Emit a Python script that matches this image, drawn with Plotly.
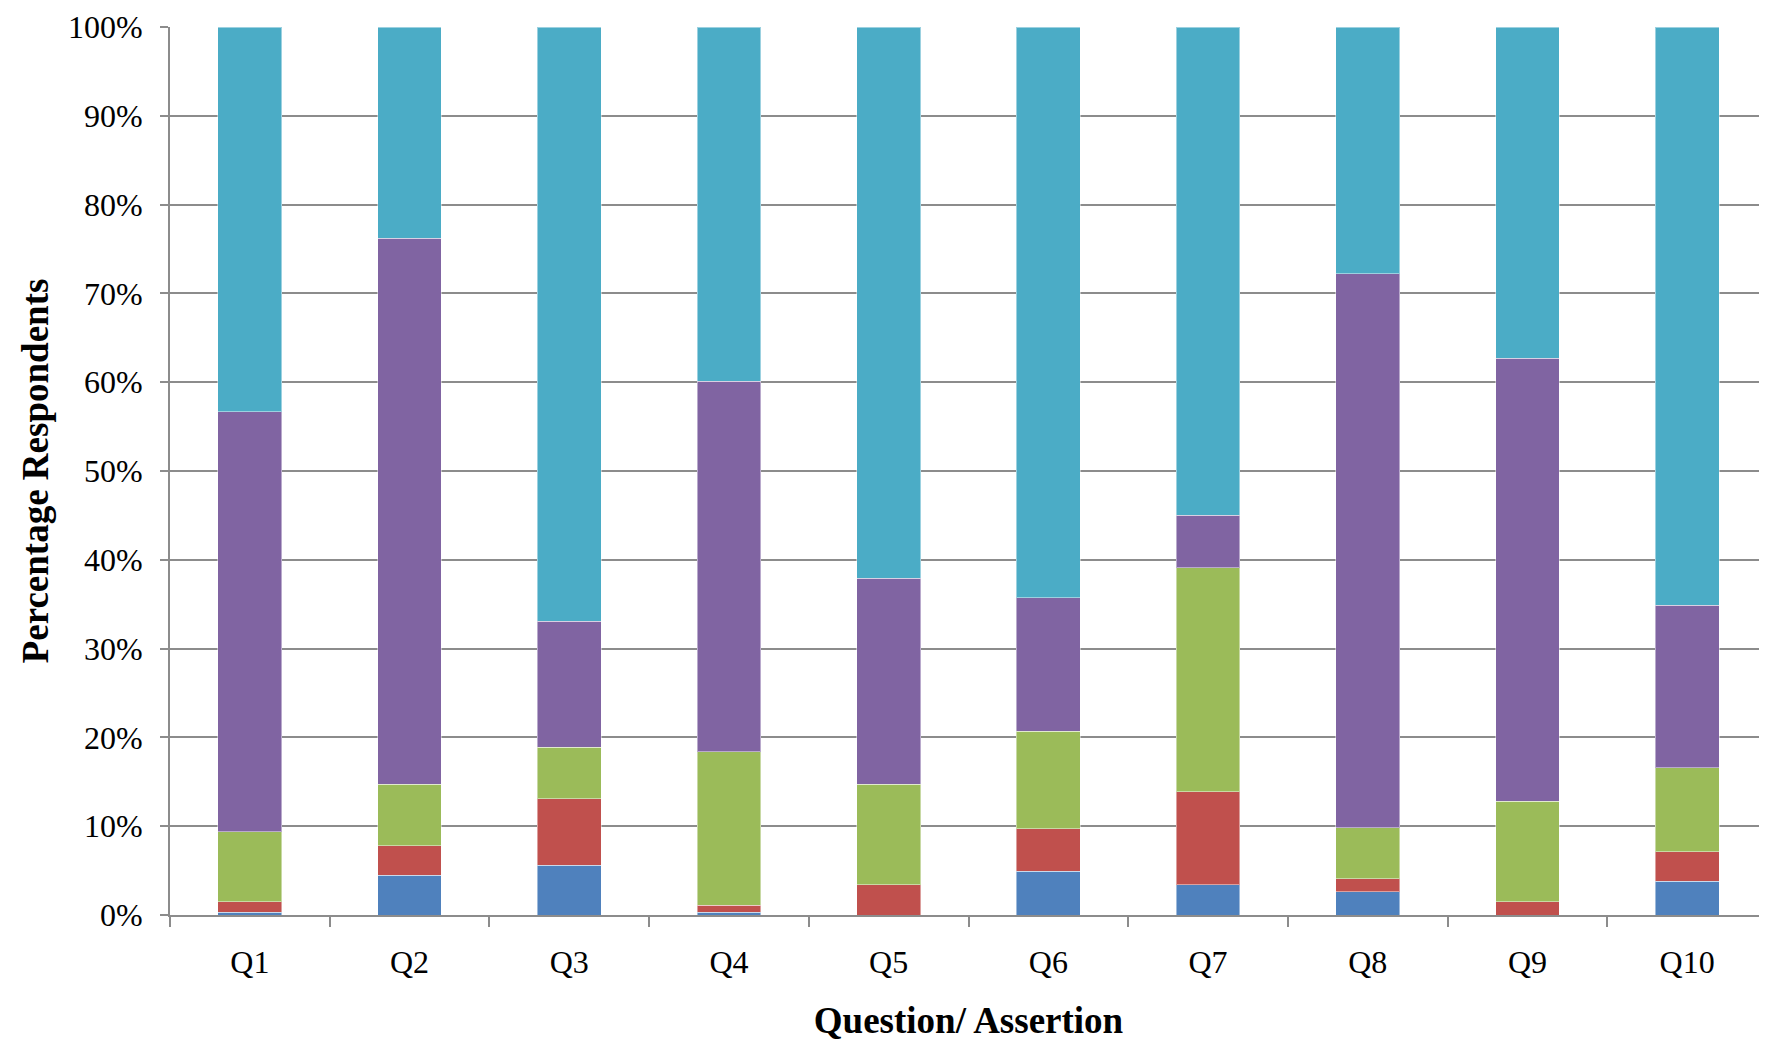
import plotly.graph_objects as go

categories = ["Q1", "Q2", "Q3", "Q4", "Q5", "Q6", "Q7", "Q8", "Q9", "Q10"]
series_blue = [0.3, 4.5, 5.6, 0.3, 0.0, 4.9, 3.4, 2.6, 0.0, 3.8]
series_red = [1.2, 3.3, 7.5, 0.8, 3.4, 4.8, 10.5, 1.5, 1.5, 3.3]
series_green = [7.9, 6.9, 5.8, 17.3, 11.3, 11.0, 25.2, 5.7, 11.3, 9.5]
series_purple = [47.3, 61.5, 14.2, 41.7, 23.2, 15.0, 5.9, 62.4, 49.9, 18.3]
series_cyan = [43.3, 23.8, 66.9, 39.9, 62.1, 64.3, 55.0, 27.8, 37.3, 65.1]
y_ticks = [0, 10, 20, 30, 40, 50, 60, 70, 80, 90, 100]
y_tick_labels = ["0%", "10%", "20%", "30%", "40%", "50%", "60%", "70%", "80%", "90%", "100%"]

colors = ["#4F81BD", "#C0504D", "#9BBB59", "#8064A2", "#4BACC6"]
all_series = [series_blue, series_red, series_green, series_purple, series_cyan]

fig = go.Figure()
for vals, col in zip(all_series, colors):
    fig.add_trace(go.Bar(
        x=categories, y=vals,
        marker=dict(color=col, line=dict(color="rgba(255,255,255,0.45)", width=1)),
        showlegend=False,
    ))

font_family = "Liberation Serif, Times New Roman, serif"
fig.update_layout(
    barmode="stack",
    bargap=0.6,
    width=1759, height=1034,
    margin=dict(l=162, r=0, t=19, b=127, autoexpand=False),
    plot_bgcolor="white", paper_bgcolor="white",
    font=dict(family=font_family, size=32, color="black"),
)
fig.update_yaxes(
    range=[0, 100], tickvals=y_ticks, ticktext=y_tick_labels,
    showgrid=True, gridcolor="#8C8C8C", gridwidth=1.5,
    showline=True, linecolor="#8C8C8C", linewidth=2,
    ticks="outside", ticklen=8, tickcolor="#8C8C8C", tickwidth=2,
    ticklabelstandoff=11, ticklabeloverflow="allow",
    zeroline=False, automargin=False,
    title=dict(text="<b>Percentage Respondents</b>", font=dict(size=37), standoff=8),
)
fig.update_xaxes(
    showline=True, linecolor="#8C8C8C", linewidth=2,
    ticks="outside", ticklen=10, tickcolor="#8C8C8C", tickwidth=2,
    tickson="boundaries", ticklabelstandoff=18,
    showgrid=False, automargin=False,
    title=dict(text="<b>Question/ Assertion</b>", font=dict(size=37), standoff=28),
)
fig.write_html("out.html")
